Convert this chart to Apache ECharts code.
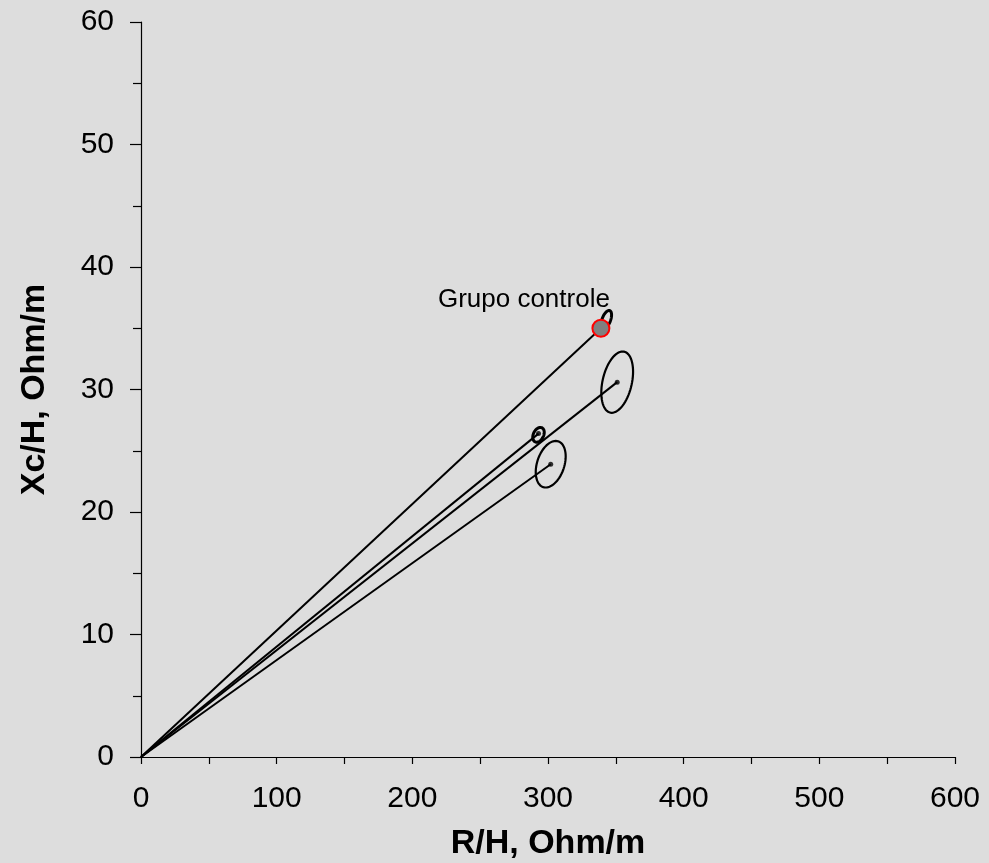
<!DOCTYPE html>
<html>
<head>
<meta charset="utf-8">
<script src="https://cdn.jsdelivr.net/npm/echarts@6/dist/echarts.min.js"></script>
<style>
  html, body { margin: 0; padding: 0; background: #dddddd; }
  #chart { width: 989px; height: 863px; }
</style>
</head>
<body>
<div id="chart"></div>
<script>
// values
const controlName = 'Grupo controle';
const controlPoint = [339, 35.0];
// vector ends (mean R/H, Xc/H of each group)
const vectorR = [339, 351, 293, 302];
const vectorXc = [35.0, 30.6, 26.4, 23.9];
// confidence ellipses: centre, half-width (R), half-height (Xc), lean
const ellipseR = [343, 351, 293, 302];
const ellipseXc = [35.7, 30.6, 26.3, 23.9];
const ellipseHalfR = [3.3, 11, 4.0, 10.4];
const ellipseHalfXc = [0.75, 2.5, 0.6, 1.9];
const ellipseLean = [2.0, 4, 1.4, 3.7];
const ellipseWidth = [3, 2.2, 3, 2.2];

const xTicks = [0, 100, 200, 300, 400, 500, 600];
const yTicks = [0, 10, 20, 30, 40, 50, 60];

let chart = echarts.init(document.getElementById('chart'));

let lineSeries = vectorR.map(function (r, i) {
  return {
    type: 'line',
    data: [[0, 0], [r, vectorXc[i]]],
    symbol: 'none',
    lineStyle: { color: '#000', width: 2 },
    z: 2
  };
});

let ellipseData = ellipseR.map(function (r, i) {
  return [r, ellipseXc[i], ellipseHalfR[i], ellipseHalfXc[i], ellipseLean[i], ellipseWidth[i]];
});

let option = {
  backgroundColor: '#dddddd',
  animation: false,
  textStyle: { fontFamily: 'Liberation Sans, Arial, sans-serif' },
  grid: { left: 141, right: 34, top: 22, bottom: 106, outerBoundsMode: 'none' },
  xAxis: {
    type: 'value',
    min: xTicks[0],
    max: xTicks[xTicks.length - 1],
    interval: 100,
    name: 'R/H, Ohm/m',
    nameLocation: 'middle',
    nameGap: 70,
    nameTextStyle: { fontSize: 34, fontWeight: 'bold', color: '#000' },
    axisLine: { onZero: false, lineStyle: { color: '#000', width: 1.2 } },
    axisTick: { length: 7, lineStyle: { color: '#000', width: 1.2 } },
    minorTick: { show: true, splitNumber: 2, length: 7, lineStyle: { color: '#000', width: 1.2 } },
    axisLabel: { fontSize: 30, color: '#000', margin: 27 },
    splitLine: { show: false }
  },
  yAxis: {
    type: 'value',
    min: yTicks[0],
    max: yTicks[yTicks.length - 1],
    interval: 10,
    name: 'Xc/H, Ohm/m',
    nameLocation: 'middle',
    nameGap: 89,
    nameTextStyle: { fontSize: 34, fontWeight: 'bold', color: '#000' },
    axisLine: { onZero: false, lineStyle: { color: '#000', width: 1.2 } },
    axisTick: { length: 11, lineStyle: { color: '#000', width: 1.2 } },
    minorTick: { show: true, splitNumber: 2, length: 8, lineStyle: { color: '#000', width: 1.2 } },
    axisLabel: { fontSize: 30, color: '#000', margin: 27 },
    splitLine: { show: false }
  },
  series: lineSeries.concat([
    {
      type: 'custom',
      data: ellipseData,
      encode: { x: 0, y: 1 },
      z: 3,
      renderItem: function (params, api) {
        let cx = api.value(0), cy = api.value(1);
        let a = api.value(2), b = api.value(3), k = api.value(4);
        let pts = [];
        for (let s = 0; s < 72; s++) {
          let t = s / 72 * Math.PI * 2;
          pts.push(api.coord([cx + a * Math.cos(t) + k * Math.sin(t), cy + b * Math.sin(t)]));
        }
        return {
          type: 'polygon',
          shape: { points: pts },
          style: { fill: 'none', stroke: '#000', lineWidth: api.value(5) }
        };
      }
    },
    {
      type: 'scatter',
      data: vectorR.slice(1).map(function (r, i) { return [r, vectorXc[i + 1]]; }),
      symbolSize: 5,
      itemStyle: { color: '#000' },
      z: 4
    },
    {
      type: 'scatter',
      data: [{ name: controlName, value: controlPoint }],
      symbolSize: 17,
      itemStyle: { color: '#808080', borderColor: '#ff0000', borderWidth: 2, opacity: 1 },
      label: {
        show: true,
        position: 'top',
        formatter: '{b}',
        offset: [-77, -1],
        fontSize: 26,
        color: '#000'
      },
      emphasis: { disabled: true },
      z: 5
    }
  ])
};

chart.setOption(option);
</script>
</body>
</html>
